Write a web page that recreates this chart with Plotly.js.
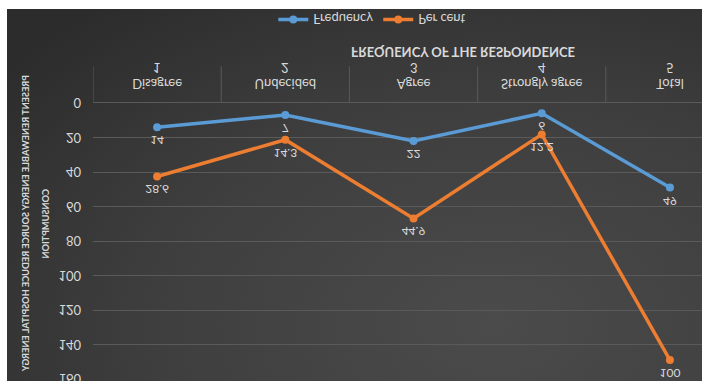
<!DOCTYPE html>
<html><head><meta charset="utf-8">
<script src="https://cdn.plot.ly/plotly-3.0.1.min.js"></script>
<style>
html,body{margin:0;padding:0;background:#fff;width:702px;height:381px;overflow:hidden;}
#wrap{position:absolute;left:7px;top:9px;width:695px;height:372px;
 background:radial-gradient(ellipse 90% 110% at 70% 85%, #4b4b4b 0%, #3e3e3e 55%, #2c2c2c 100%);overflow:hidden;}
#chart{position:absolute;left:0;top:0;width:695px;height:372px;transform:scaleY(-1);transform-origin:50% 50%;}
</style></head>
<body><div id="wrap"><div id="chart"></div></div>
<script>
const codes = ["1","2","3","4","5"];
const categories = ["Disagree","Undecided","Agree","Strongly agree","Total"];
const frequency = [14, 7, 22, 6, 49];
const perCent = [28.6, 14.3, 44.9, 12.2, 100];
const yTicks = [0,20,40,60,80,100,120,140,160];

const txt = '#d9d9d9';
const font = 'Lato, "Open Sans", sans-serif';
function series(name, vals, color){
  return {type:'scatter', mode:'lines+markers+text', name:name,
    x:categories, y:vals, stackgroup:'s', fill:'none',
    text:vals.map(String), textposition:'top center',
    textfont:{color:txt,size:12,family:font},
    line:{color:color,width:3.5}, marker:{color:color,size:8},
    hoverinfo:'skip'};
}
const data=[series('Frequency',frequency,'#5B9BD5'), series('Per cent',perCent,'#ED7D31')];
// divider lines in the category label area, at category boundaries
const dividers = categories.map((c,i)=>({type:'line',xref:'x',yref:'paper',x0:i-0.5,x1:i-0.5,y0:0,y1:-0.133,
  line:{color:'#5a5a5a',width:1}}));
// outer level of the category axis (codes)
const codeLabels = codes.map((c,i)=>({text:c,xref:'x',yref:'paper',x:categories[i],y:-0.1265,
  showarrow:false,xanchor:'center',yanchor:'middle',font:{size:13,color:txt}}));
const layout={
  width:695,height:372,
  paper_bgcolor:'rgba(0,0,0,0)',plot_bgcolor:'rgba(0,0,0,0)',
  margin:{l:85.5,r:0,t:1.7,b:93.7,autoexpand:false},
  font:{family:font,color:txt,size:12},
  showlegend:true,
  legend:{orientation:'h',x:0.4586,xanchor:'center',y:-0.303,yanchor:'middle',
    font:{size:13,color:txt},bgcolor:'rgba(0,0,0,0)'},
  xaxis:{type:'category',range:[-0.5,4.25],showgrid:false,zeroline:false,
    tickvals:categories,ticktext:categories,
    showline:true,linecolor:'#5a5a5a',linewidth:1,ticks:'',ticklabelstandoff:7,
    tickfont:{size:13,color:txt},automargin:false},
  yaxis:{range:[0,160],tickvals:yTicks,ticktext:yTicks.map(String),showgrid:true,gridcolor:'#5a5a5a',gridwidth:1,
    zeroline:false,showline:false,ticks:'',ticklabelstandoff:11,ticklabeloverflow:'allow',
    tickfont:{size:13,color:txt},automargin:false},
  shapes:dividers,
  annotations:codeLabels.concat([
    {text:'<b>FREQUENCY OF THE RESPONDENCE</b>',xref:'paper',yref:'paper',x:0.608,y:-0.183,
      showarrow:false,xanchor:'center',yanchor:'middle',font:{size:13,color:txt}},
    {text:'<b>PRESENT RENEWABLE ENERGY SOURCE REDUCE HOSPITAL ENERGY</b>',xref:'paper',yref:'paper',x:-0.1107,y:0.437,
      textangle:-90,showarrow:false,xanchor:'center',yanchor:'middle',font:{size:9.2,color:txt}},
    {text:'<b>CONSUMPTION</b>',xref:'paper',yref:'paper',x:-0.078,y:0.437,
      textangle:-90,showarrow:false,xanchor:'center',yanchor:'middle',font:{size:9.2,color:txt}}
  ])
};
Plotly.newPlot('chart',data,layout,{staticPlot:true,displayModeBar:false});
</script></body></html>
